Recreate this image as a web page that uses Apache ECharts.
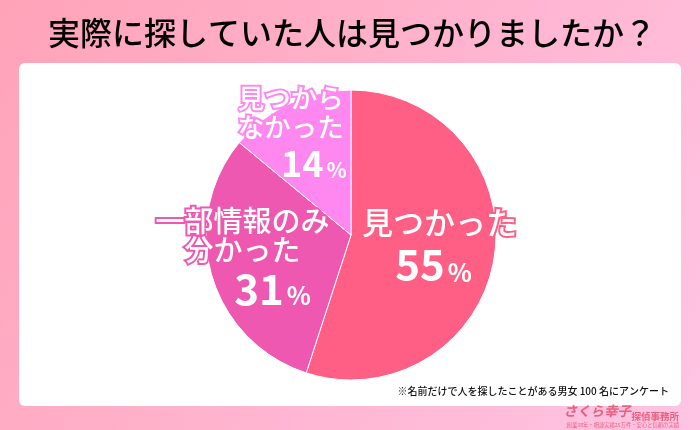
<!DOCTYPE html>
<html><head><meta charset="utf-8">
<style>html,body{margin:0;padding:0;background:#fff}#c{width:700px;height:430px}</style>
<script src="https://cdn.jsdelivr.net/npm/echarts@6/dist/echarts.min.js"></script>
</head><body><div id="c"></div>
<script>
const titleText = '実際に探していた人は見つかりましたか？';
const noteText = '※名前だけで人を探したことがある男女 100 名にアンケート';
const logoMain = 'さくら幸子';
const logoSub = '探偵事務所';
const logoLine = '創業38年・相談実績25万件・安心と信頼の実績';
const categories = ['見つかった', '一部情報のみ\n分かった', '見つから\nなかった'];
const values = [55, 31, 14];
const colors = ['#ff5f85', '#ee58b0', '#ff88f0'];
const labelOffsets = [[14, -1], [-36, 1], [-28, -35]];
const nameSizes = [31, 29, 26.5];
const nameLines = [31, 29, 29];
const pctSizes = [42, 42, 36];
const unitSizes = [25, 25, 21];
const pctLines = [48, 44, 39];
const pctShift = [-6, 30, 23];
const font = '"Noto Sans CJK JP"';
const chart = echarts.init(document.getElementById('c'), null, {renderer:'canvas'});
function rich(i){
  const s = pctShift[i];
  return {
    n:{fontFamily:font,fontSize:nameSizes[i],lineHeight:nameLines[i],color:'#fff',textBorderColor:colors[i],textBorderWidth:4,fontWeight:500},
    p:{fontFamily:font,fontSize:pctSizes[i],lineHeight:pctLines[i],color:'#fff',fontWeight:700,padding:[6,0,0,s>0?2*s:0]},
    u:{fontFamily:font,fontSize:unitSizes[i],lineHeight:pctLines[i],color:'#fff',fontWeight:700,padding:[6,s<0?-2*s:0,0,3],verticalAlign:'bottom'}
  };
}
chart.setOption({
  animation:false,
  title:{text:titleText,left:43,top:12,textStyle:{fontFamily:font,fontSize:32,fontWeight:500,color:'#000'}},
  graphic:[
    {type:'rect',z:-10,shape:{x:0,y:0,width:700,height:430},style:{fill:new echarts.graphic.LinearGradient(0,0,1,1,[{offset:0,color:'#ffa3b8'},{offset:1,color:'#ffc4e4'}])}},
    {type:'rect',z:-9,shape:{x:19,y:63,width:662,height:343,r:6},style:{fill:'#fff'}},
    {type:'text',z:5,x:669,y:391,style:{text:noteText,align:'right',verticalAlign:'middle',font:'500 10px '+font,fill:'#111'}},
    {type:'text',z:5,x:631,y:413,style:{text:logoMain,align:'right',verticalAlign:'middle',font:'italic 700 13.5px "Liberation Serif","Noto Sans CJK JP"',fill:'#e8607f'}},
    {type:'text',z:5,x:679,y:416,style:{text:logoSub,align:'right',verticalAlign:'middle',font:'700 9.5px '+font,fill:'#e8607f'}},
    {type:'text',z:5,x:679,y:425,style:{text:logoLine,align:'right',verticalAlign:'middle',font:'400 5.3px '+font,fill:'#e8607f'}}
  ],
  series:[{
    type:'pie',
    center:[351,235],
    radius:[0,145],
    startAngle:90,
    clockwise:true,
    silent:true,
    avoidLabelOverlap:false,
    labelLayout:{hideOverlap:false},
    itemStyle:{borderColor:'#fff',borderWidth:1},
    labelLine:{show:false},
    data:categories.map((name,i)=>({
      name,value:values[i],
      itemStyle:{color:colors[i]},
      label:{
        show:true,position:'inside',align:'center',offset:labelOffsets[i],
        formatter:name.split('\n').map(s=>'{n|'+s+'}').join('\n')+'\n{p|'+values[i]+'}{u|%}',
        rich:rich(i)
      }
    }))
  }]
});
</script></body></html>
